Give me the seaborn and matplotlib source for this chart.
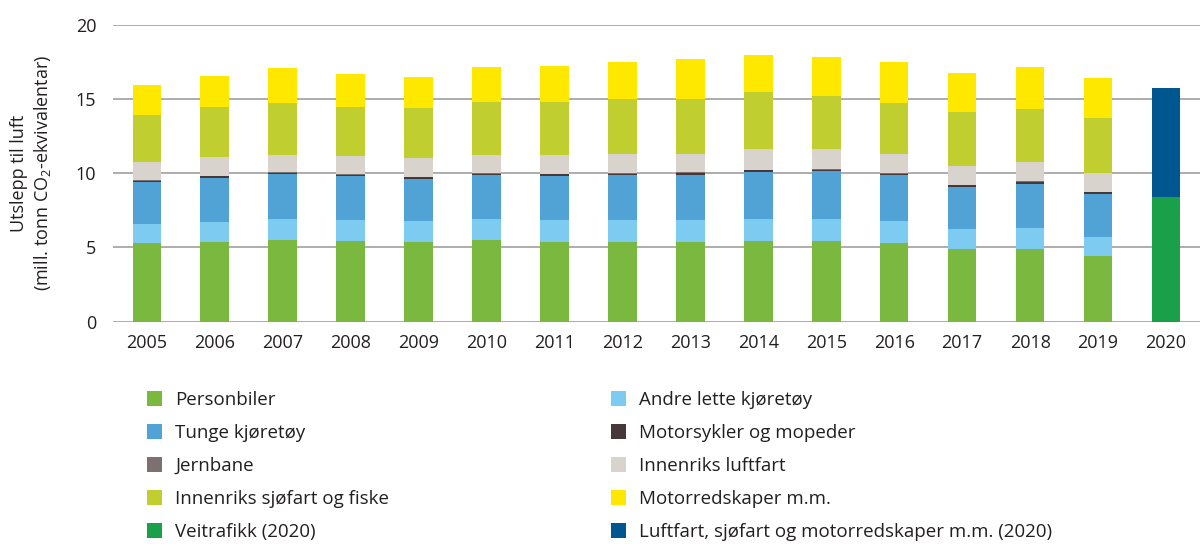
import numpy as np
import pandas as pd
import matplotlib.pyplot as plt
import seaborn as sns
from matplotlib.patches import Patch

# Utslipp per kategori (mill. tonn CO2-ekv.), lest av figuren
years = [str(y) for y in range(2005, 2021)]
personbiler = [5.27, 5.34, 5.50, 5.41, 5.36, 5.50, 5.36, 5.36, 5.34, 5.43, 5.43, 5.27, 4.87, 4.87, 4.42, 0]
andre_lette = [1.31, 1.37, 1.41, 1.44, 1.44, 1.44, 1.46, 1.49, 1.51, 1.51, 1.51, 1.51, 1.35, 1.42, 1.30, 0]
tunge = [2.83, 2.99, 3.01, 2.96, 2.83, 2.94, 3.01, 3.00, 3.05, 3.16, 3.18, 3.07, 2.85, 3.00, 2.88, 0]
motorsykler = [0.09, 0.09, 0.12, 0.09, 0.09, 0.09, 0.10, 0.10, 0.12, 0.10, 0.12, 0.12, 0.12, 0.12, 0.11, 0]
jernbane = [0.04, 0.04, 0.04, 0.04, 0.04, 0.04, 0.04, 0.04, 0.04, 0.04, 0.04, 0.04, 0.04, 0.04, 0.04, 0]
luftfart = [1.21, 1.24, 1.17, 1.19, 1.24, 1.24, 1.28, 1.32, 1.23, 1.39, 1.32, 1.26, 1.25, 1.30, 1.26, 0]
sjofart = [3.17, 3.41, 3.48, 3.33, 3.39, 3.52, 3.56, 3.68, 3.73, 3.81, 3.62, 3.48, 3.64, 3.59, 3.73, 0]
motorredskaper = [2.02, 2.09, 2.33, 2.24, 2.11, 2.40, 2.43, 2.50, 2.67, 2.52, 2.60, 2.71, 2.63, 2.81, 2.67, 0]
veitrafikk_2020 = [0] * 15 + [8.39]
ovrig_2020 = [0] * 15 + [7.32]

labels = ["Personbiler", "Andre lette kjøretøy", "Tunge kjøretøy", "Motorsykler og mopeder",
          "Jernbane", "Innenriks luftfart", "Innenriks sjøfart og fiske", "Motorredskaper m.m.",
          "Veitrafikk (2020)", "Luftfart, sjøfart og motorredskaper m.m. (2020)"]
colors = ["#7ab840", "#7dcbf0", "#52a3d5", "#45373a", "#7d716f",
          "#d8d3cc", "#c0ce30", "#ffe800", "#1aa049", "#005790"]

df = pd.DataFrame({
    labels[0]: personbiler, labels[1]: andre_lette, labels[2]: tunge,
    labels[3]: motorsykler, labels[4]: jernbane, labels[5]: luftfart,
    labels[6]: sjofart, labels[7]: motorredskaper,
    labels[8]: veitrafikk_2020, labels[9]: ovrig_2020,
}, index=years)
cum = df.cumsum(axis=1)

sns.set_style("white")
plt.rcParams['font.family'] = ['Open Sans', 'DejaVu Sans']
plt.rcParams['mathtext.fontset'] = 'custom'
plt.rcParams['mathtext.rm'] = 'Open Sans'
fs = 13
fs_leg = 13.5

fig = plt.figure(figsize=(12, 5.58), dpi=100)
ax = fig.add_axes([0.094, 0.4235, 0.906, 0.5322])

# stablede søyler: tegn kumulative summer ovenfra og ned
for lab, col in reversed(list(zip(labels, colors))):
    sns.barplot(x=years, y=cum[lab].values, color=col, width=0.42,
                linewidth=0, saturation=1, ax=ax)

ax.set_xlim(-0.5, 15.5)
ax.set_ylim(0, 20)
ax.set_yticks([0, 5, 10, 15, 20])
ax.yaxis.grid(True, color="#a0a0a0", linewidth=1.2)
ax.set_axisbelow(True)
for s in ax.spines.values():
    s.set_visible(False)
ax.tick_params(axis='both', length=0, labelsize=fs, colors="#231f20")
ax.tick_params(axis='y', pad=12)
ax.tick_params(axis='x', pad=9)
ax.set_xlabel("")
ax.set_ylabel("Utslepp til luft\n(mill. tonn CO$_\\mathregular{2}$-ekvivalentar)",
              fontsize=fs, color="#231f20", labelpad=16, linespacing=1.25)

handles = [Patch(facecolor=c, edgecolor='none') for c in colors]
left_idx = [0, 2, 4, 6, 8]
right_idx = [1, 3, 5, 7, 9]
leg_kw = dict(loc='upper left', frameon=False, borderpad=0, borderaxespad=0,
              handlelength=0.8, handleheight=0.8, handletextpad=0.7,
              labelspacing=0.8, fontsize=fs_leg, labelcolor="#231f20")
leg1 = fig.legend([handles[i] for i in left_idx], [labels[i] for i in left_idx],
                  bbox_to_anchor=(147 / 1200, 1 - 391 / 558), **leg_kw)
leg2 = fig.legend([handles[i] for i in right_idx], [labels[i] for i in right_idx],
                  bbox_to_anchor=(611 / 1200, 1 - 391 / 558), **leg_kw)

fig.savefig("out.png", dpi=100)
